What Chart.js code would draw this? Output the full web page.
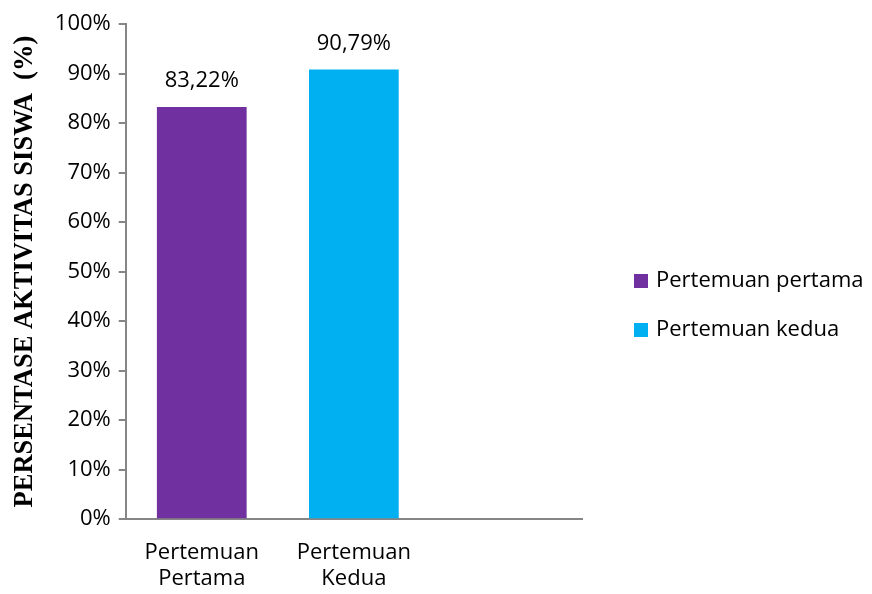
<!DOCTYPE html>
<html>
<head>
<meta charset="utf-8">
<script src="https://cdn.jsdelivr.net/npm/chart.js"></script>
<style>
    html, body { margin: 0; padding: 0; background: #ffffff; }
    #wrap { width: 872px; height: 594px; }
</style>
</head>
<body>
<div id="wrap"><canvas id="chart" width="872" height="594"></canvas></div>
<script>
// Data
const categories = [['Pertemuan', 'Pertama'], ['Pertemuan', 'Kedua'], ''];
const seriesNames = ['Pertemuan pertama', 'Pertemuan kedua'];
const pertamaValues = [83.22, null, null];
const keduaValues = [null, 90.79, null];
const yTicks = [0, 10, 20, 30, 40, 50, 60, 70, 80, 90, 100];

const textFont = "'Open Sans', sans-serif";
const axisGrey = '#868686';

// Value labels above bars ("83,22%")
const valueLabels = {
    id: 'valueLabels',
    afterDatasetsDraw(chart) {
        const ctx = chart.ctx;
        ctx.save();
        ctx.font = '22px ' + textFont;
        ctx.fillStyle = '#000';
        ctx.textAlign = 'center';
        ctx.textBaseline = 'alphabetic';
        chart.data.datasets.forEach((ds, i) => {
            const meta = chart.getDatasetMeta(i);
            meta.data.forEach((bar, j) => {
                const v = ds.data[j];
                if (v == null) return;
                const txt = v.toFixed(2).replace('.', ',') + '%';
                ctx.fillText(txt, bar.x, bar.y - 20);
            });
        });
        ctx.restore();
    }
};

// Legend drawn on the right, in the space kept free by layout padding
const sideLegend = {
    id: 'sideLegend',
    afterDraw(chart) {
        const ctx = chart.ctx;
        const x = chart.chartArea.right + 52;
        const rowGap = 49;
        const firstY = 281;
        ctx.save();
        ctx.font = '22px ' + textFont;
        ctx.textBaseline = 'middle';
        ctx.textAlign = 'left';
        chart.data.datasets.forEach((ds, i) => {
            const cy = firstY + i * rowGap;
            ctx.fillStyle = ds.backgroundColor;
            ctx.fillRect(x, cy - 7, 14, 14);
            ctx.fillStyle = '#000';
            ctx.fillText(ds.label, x + 22, cy);
        });
        ctx.restore();
    }
};

new Chart(document.getElementById('chart'), {
    type: 'bar',
    data: {
        labels: categories,
        datasets: [
            {
                label: seriesNames[0],
                data: pertamaValues,
                backgroundColor: '#7030a0'
            },
            {
                label: seriesNames[1],
                data: keduaValues,
                backgroundColor: '#00b0f0'
            }
        ]
    },
    options: {
        responsive: false,
        animation: false,
        layout: { padding: { top: 24, left: 0, right: 290, bottom: -10 } },
        datasets: {
            bar: { skipNull: true, barPercentage: 0.59, categoryPercentage: 1.0 }
        },
        plugins: {
            tooltip: { enabled: false },
            legend: { display: false }
        },
        scales: {
            x: {
                grid: { display: false },
                border: { display: true, color: axisGrey, width: 2 },
                ticks: {
                    font: { family: textFont, size: 22 },
                    color: '#000',
                    maxRotation: 0,
                    padding: 12
                }
            },
            y: {
                min: 0,
                max: 100,
                afterBuildTicks(axis) {
                    axis.ticks = yTicks.map(v => ({ value: v }));
                },
                grid: {
                    drawOnChartArea: false,
                    drawTicks: true,
                    tickLength: 7,
                    color: axisGrey,
                    lineWidth: 2
                },
                border: { display: true, color: axisGrey, width: 2 },
                ticks: {
                    font: { family: textFont, size: 22 },
                    color: '#000',
                    padding: 8,
                    callback: v => v + '%'
                },
                title: {
                    display: true,
                    text: 'PERSENTASE AKTIVITAS SISWA  (%)',
                    font: { family: "'Liberation Serif', serif", size: 26.5, weight: 'bold' },
                    color: '#000',
                    padding: { top: 9, bottom: 6 }
                }
            }
        }
    },
    plugins: [valueLabels, sideLegend]
});
</script>
</body>
</html>
